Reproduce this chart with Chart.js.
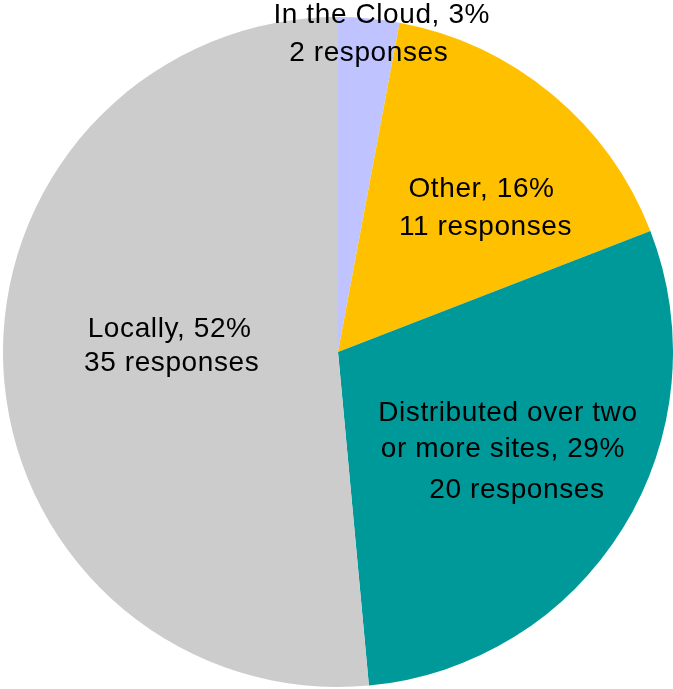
<!DOCTYPE html>
<html>
<head>
<meta charset="utf-8">
<script src="https://cdn.jsdelivr.net/npm/chart.js@4/dist/chart.umd.min.js"></script>
<style>
  html, body { margin: 0; padding: 0; background: #fff; }
  #wrap { width: 673px; height: 689px; }
</style>
</head>
<body>
<div id="wrap"><canvas id="myChart" width="673" height="689"></canvas></div>
<script>
// data
var categories = ['In the Cloud', 'Other', 'Distributed over two or more sites', 'Locally'];
var responses = [2, 11, 20, 35];
var percents = [3, 16, 29, 52];
var colors = ['#BFC3FF', '#FFC000', '#009999', '#CCCCCC'];

// label text lines for each slice
var labelLines = [
    ['In the Cloud, 3%', '2 responses'],
    ['Other, 16%', '11 responses'],
    ['Distributed over two', 'or more sites, 29%', '20 responses'],
    ['Locally, 52%', '35 responses']
];
// where the label sits: fraction of radius, angle shift (deg), per-line x/y nudges
var labelRadius = [0.955, 0.61, 0.59, 0.5];
var labelAngleShift = [1.3, 5.7, -1.6, 5];
var lineDx = [[7, -6], [-2, 2], [-1, -6, 8], [-1, 1]];
var lineDy = [[-19, 19], [-19, 19], [-38, -2, 39], [-16, 18]];

var sliceLabels = {
    id: 'sliceLabels',
    afterDraw: function(chart) {
        var ctx = chart.ctx;
        var arcs = chart.getDatasetMeta(0).data;
        ctx.save();
        ctx.fillStyle = '#000';
        ctx.textAlign = 'center';
        ctx.textBaseline = 'middle';
        ctx.font = '28px "Liberation Sans", Arial, sans-serif';
        ctx.letterSpacing = '0.6px';
        for (var i = 0; i < arcs.length; i++) {
            var a = arcs[i];
            var mid = (a.startAngle + a.endAngle) / 2 + labelAngleShift[i] * Math.PI / 180;
            var r = a.outerRadius * labelRadius[i];
            var cx = a.x + Math.cos(mid) * r;
            var cy = a.y + Math.sin(mid) * r;
            for (var j = 0; j < labelLines[i].length; j++) {
                ctx.fillText(labelLines[i][j], cx + lineDx[i][j], cy + lineDy[i][j]);
            }
        }
        ctx.restore();
    }
};

new Chart(document.getElementById('myChart'), {
    type: 'pie',
    data: {
        labels: categories,
        datasets: [{
            data: responses,
            backgroundColor: colors,
            borderWidth: 0
        }]
    },
    options: {
        responsive: false,
        animation: false,
        layout: { padding: { top: 17, left: 3, right: 0, bottom: 2 } },
        plugins: {
            legend: { display: false },
            tooltip: { enabled: false }
        }
    },
    plugins: [sliceLabels]
});
</script>
</body>
</html>
